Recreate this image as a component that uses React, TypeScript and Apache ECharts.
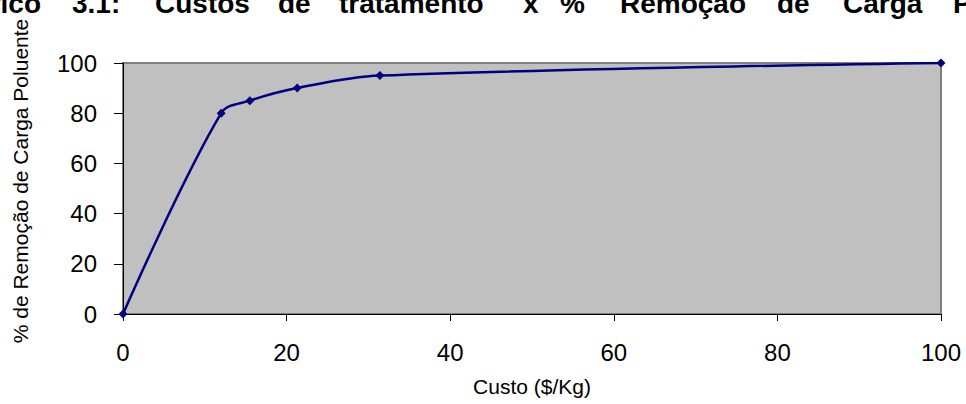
import React, { useEffect, useRef } from "react";
import * as echarts from "echarts";

// Cost per kg of pollutant removed vs. share of pollutant load removed
const custo = [0, 12, 15.5, 21.3, 31.4, 100];
const remocao = [0, 80, 85, 90, 95, 100];

const xTicks = [0, 20, 40, 60, 80, 100];
const yTicks = [0, 20, 40, 60, 80, 100];

const titleWords = ["Gráfico", "3.1:", "Custos", "de", "tratamento", "x", "%", "Remoção", "de", "Carga", "Poluente"];
const xAxisTitle = "Custo ($/Kg)";
const yAxisTitle = "% de Remoção de Carga Poluente";

// Justified title: left edge of each word (the first one is right-aligned)
const titleX = [41, 72, 155, 278, 339, 523, 560, 620, 777, 843, 953];

const FONT = "'Liberation Sans', Arial, Helvetica, sans-serif";

export default function App() {
  const ref = useRef<HTMLDivElement>(null);

  useEffect(() => {
    if (!ref.current) return;
    const chart = echarts.init(ref.current, null, { renderer: "svg" });

    // Title sits partly above the top edge of the canvas
    const titleGraphics = titleWords.map((w, i) => ({
      type: "text",
      x: titleX[i],
      y: -11,
      style: {
        text: w,
        fontSize: 28,
        fontWeight: "bold",
        fontFamily: FONT,
        fill: "#000",
        align: i === 0 ? "right" : "left",
        textAlign: i === 0 ? "right" : "left",
        verticalAlign: "top",
        textVerticalAlign: "top",
      },
    }));

    chart.setOption({
      animation: false,
      backgroundColor: "#ffffff",
      textStyle: { fontFamily: FONT },
      grid: {
        left: 123,
        right: 25,
        top: 63,
        bottom: 90,
        show: true,
        backgroundColor: "#C0C0C0",
        borderColor: "#808080",
        borderWidth: 2,
      },
      xAxis: {
        type: "value",
        min: xTicks[0],
        max: xTicks[xTicks.length - 1],
        interval: xTicks[1] - xTicks[0],
        axisLine: { show: true, lineStyle: { color: "#000", width: 1 } },
        axisTick: { show: true, length: 7, lineStyle: { color: "#000" } },
        axisLabel: { fontSize: 24, color: "#000", margin: 26, fontFamily: FONT },
        splitLine: { show: false },
      },
      yAxis: {
        type: "value",
        min: yTicks[0],
        max: yTicks[yTicks.length - 1],
        interval: yTicks[1] - yTicks[0],
        axisLine: { show: true, lineStyle: { color: "#000", width: 1 } },
        axisTick: { show: true, length: 9, lineStyle: { color: "#000" } },
        axisLabel: { fontSize: 24, color: "#000", margin: 26, fontFamily: FONT },
        splitLine: { show: false },
      },
      series: [
        {
          type: "line",
          data: custo.map((c, i) => [c, remocao[i]]),
          smooth: 0.35,
          symbol: "diamond",
          symbolSize: 9,
          lineStyle: { color: "#000080", width: 2.5 },
          itemStyle: { color: "#000080" },
        },
      ],
      graphic: [
        ...titleGraphics,
        {
          type: "text",
          x: 532,
          y: 386,
          style: {
            text: xAxisTitle,
            fontSize: 21,
            fontFamily: FONT,
            fill: "#000",
            align: "center",
            textAlign: "center",
            verticalAlign: "middle",
            textVerticalAlign: "middle",
          },
        },
        {
          type: "text",
          x: 20,
          y: 181,
          rotation: Math.PI / 2,
          style: {
            text: yAxisTitle,
            fontSize: 21,
            fontFamily: FONT,
            fill: "#000",
            align: "center",
            textAlign: "center",
            verticalAlign: "middle",
            textVerticalAlign: "middle",
          },
        },
      ],
    });

    return () => chart.dispose();
  }, []);

  return (
    <div
      ref={ref}
      style={{ position: "absolute", left: 0, top: 0, width: 966, height: 404 }}
    />
  );
}
